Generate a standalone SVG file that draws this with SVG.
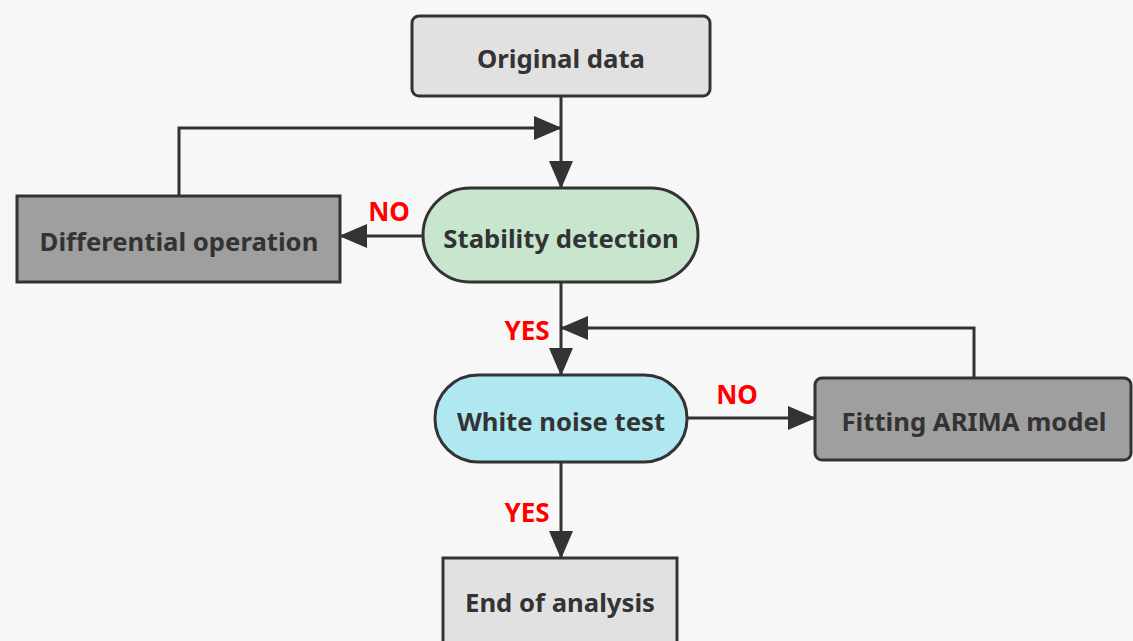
<svg xmlns="http://www.w3.org/2000/svg" width="1133" height="641" viewBox="0 0 1133 641">
<defs>
<style>
.box{stroke:#333;stroke-width:3}
.t{font-family:"Noto Sans","Open Sans",sans-serif;font-weight:bold;font-size:25.7px;fill:#333;text-anchor:middle;dominant-baseline:central}
.lbl{font-family:"Noto Sans","Open Sans",sans-serif;font-weight:bold;font-size:26px;fill:#f00;text-anchor:middle;dominant-baseline:central}
.ln{fill:none;stroke:#333;stroke-width:3}
</style>
<marker id="a" viewBox="0 0 28 24" refX="27" refY="12" markerWidth="28" markerHeight="24" orient="auto" markerUnits="userSpaceOnUse">
<path d="M0,0 L28,12 L0,24 Z" fill="#333"/>
</marker>
</defs>
<rect width="1133" height="641" fill="#f7f7f7"/>
<g id="connectors">
<path class="ln" d="M561,96 V188" marker-end="url(#a)"/>
<path class="ln" d="M179,196 V128 H561" marker-end="url(#a)"/>
<path class="ln" d="M423,236 H340" marker-end="url(#a)"/>
<path class="ln" d="M561,282 V375" marker-end="url(#a)"/>
<path class="ln" d="M974,378 V328 H561" marker-end="url(#a)"/>
<path class="ln" d="M687,418 H815" marker-end="url(#a)"/>
<path class="ln" d="M561,462 V558" marker-end="url(#a)"/>
<text class="lbl" x="389" y="211">NO</text>
<text class="lbl" x="527" y="330">YES</text>
<text class="lbl" x="737" y="394">NO</text>
<text class="lbl" x="527" y="512">YES</text>
</g>
<g id="original">
<rect class="box" x="412" y="16" width="298" height="80" rx="7" fill="#e1e1e1"/>
<text class="t" x="561" y="58">Original data</text>
</g>
<g id="differential">
<rect class="box" x="17" y="196" width="323" height="86" fill="#9f9f9f"/>
<text class="t" x="179" y="241">Differential operation</text>
</g>
<g id="stability">
<rect class="box" x="423" y="188" width="275" height="94" rx="47" fill="#c7e6cd"/>
<text class="t" x="561" y="238">Stability detection</text>
</g>
<g id="whitenoise">
<rect class="box" x="435" y="375" width="252" height="87" rx="43" fill="#b0e8f1"/>
<text class="t" x="561" y="421">White noise test</text>
</g>
<g id="fitting">
<rect class="box" x="815" y="378" width="316" height="82" rx="7" fill="#9f9f9f"/>
<text class="t" x="974" y="421">Fitting ARIMA model</text>
</g>
<g id="end">
<rect class="box" x="443" y="558" width="234" height="90" fill="#e1e1e1"/>
<text class="t" x="560" y="602">End of analysis</text>
</g>
</svg>
